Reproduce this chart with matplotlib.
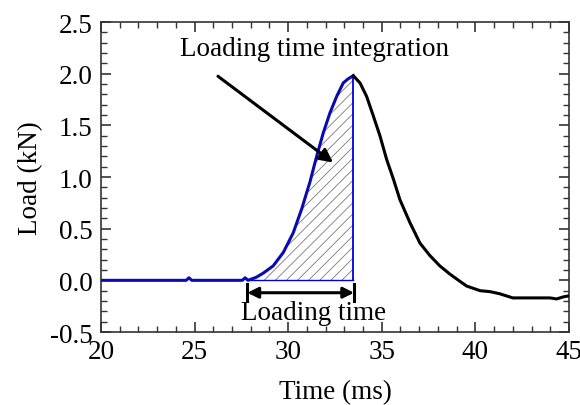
import matplotlib
matplotlib.use("Agg")
import matplotlib.pyplot as plt
from matplotlib.ticker import MultipleLocator
import numpy as np

# Rising (loading) part - blue
t_rise = [20.0, 24.55, 24.7, 24.85, 27.55, 27.7, 27.85, 28.0, 28.3, 28.67, 29.2, 29.74,
          30.27, 30.72, 31.16, 31.52, 31.88, 32.23, 32.59, 32.94, 33.2, 33.48]
load_rise = [0.0, 0.0, 0.025, 0.0, 0.0, 0.025, 0.0, 0.01, 0.03, 0.07, 0.14, 0.27,
             0.46, 0.69, 0.95, 1.20, 1.43, 1.62, 1.78, 1.91, 1.95, 1.98]
# Unloading part - black
t_fall = [33.48, 33.84, 34.19, 34.55, 34.9, 35.26, 35.62, 35.97, 36.5, 37.04, 37.57,
          38.1, 38.64, 39.1, 39.53, 40.25, 40.8, 41.3, 42.0, 43.98, 44.34, 44.7, 45.0]
load_fall = [1.98, 1.91, 1.78, 1.59, 1.40, 1.17, 0.98, 0.78, 0.56, 0.36, 0.24,
             0.14, 0.06, 0.0, -0.055, -0.10, -0.11, -0.13, -0.17, -0.17, -0.18, -0.16, -0.15]

fill_start = 27.9
fill_end = 33.48
lt_start = 27.82
lt_end = 33.52

plt.rcParams['font.family'] = ['Liberation Serif', 'DejaVu Serif']
plt.rcParams['hatch.linewidth'] = 0.6
plt.rcParams['hatch.color'] = '#7a7a7a'
FS = 19.5
fig = plt.figure(figsize=(5.8, 4.06), dpi=100)
ax = fig.add_axes([0.1741, 0.1798, 0.8069, 0.7635])

tr = np.array(t_rise)
lr = np.array(load_rise)
mask = tr >= fill_start
ax.fill_between(tr[mask], 0, lr[mask], facecolor='none', edgecolor='#7a7a7a',
                hatch='///', linewidth=0)
ax.plot([fill_start, fill_end], [0, 0], color='#0000dd', lw=1.0)
ax.plot([fill_end, fill_end], [0, load_rise[-1]], color='#0000dd', lw=1.3)
ax.plot(t_rise, load_rise, color='#0a0ab4', lw=2.2, zorder=3, solid_joinstyle='round')
ax.plot(t_fall, load_fall, color='black', lw=2.2, zorder=3, solid_joinstyle='round')

# annotation arrow
ax.annotate('', xy=(32.4, 1.14), xytext=(26.25, 1.975),
            arrowprops=dict(arrowstyle='-|>', color='black', lw=2.2,
                            mutation_scale=20, shrinkA=0, shrinkB=0))
ax.text(31.43, 2.24, 'Loading time integration', ha='center', va='center', fontsize=FS)

# loading time double arrow
ax.annotate('', xy=(lt_start, -0.12), xytext=(lt_end, -0.12),
            arrowprops=dict(arrowstyle='<|-|>', color='black', lw=2.2,
                            mutation_scale=16, shrinkA=0, shrinkB=0))
for xv in [lt_start, lt_end]:
    ax.plot([xv, xv], [-0.04, -0.20], color='black', lw=2.2)
ax.text(31.33, -0.31, 'Loading time', ha='center', va='center', fontsize=FS)

ax.set_xlim(20, 45)
ax.set_ylim(-0.5, 2.5)
ax.xaxis.set_major_locator(MultipleLocator(5))
ax.xaxis.set_minor_locator(MultipleLocator(1))
ax.yaxis.set_major_locator(MultipleLocator(0.5))
ax.yaxis.set_minor_locator(MultipleLocator(0.1))
ax.set_yticks([-0.5, 0.0, 0.5, 1.0, 1.5, 2.0, 2.5])
ax.set_yticklabels(['-0.5', '0.0', '0.5', '1.0', '1.5', '2.0', '2.5'])
ax.tick_params(which='both', direction='in', top=True, right=True, labelsize=FS,
               color='#333333')
ax.tick_params(which='major', length=7, width=1.2)
ax.tick_params(axis='y', which='major', pad=6)
ax.tick_params(axis='x', which='major', pad=5)
ax.tick_params(which='minor', length=4, width=1.0)
for s in ax.spines.values():
    s.set_linewidth(1.2)
    s.set_color('#333333')
ax.set_xlabel('Time (ms)', fontsize=FS, labelpad=11)
ax.set_ylabel('Load (kN)', fontsize=FS, labelpad=5)

fig.savefig('out.png', dpi=100)
